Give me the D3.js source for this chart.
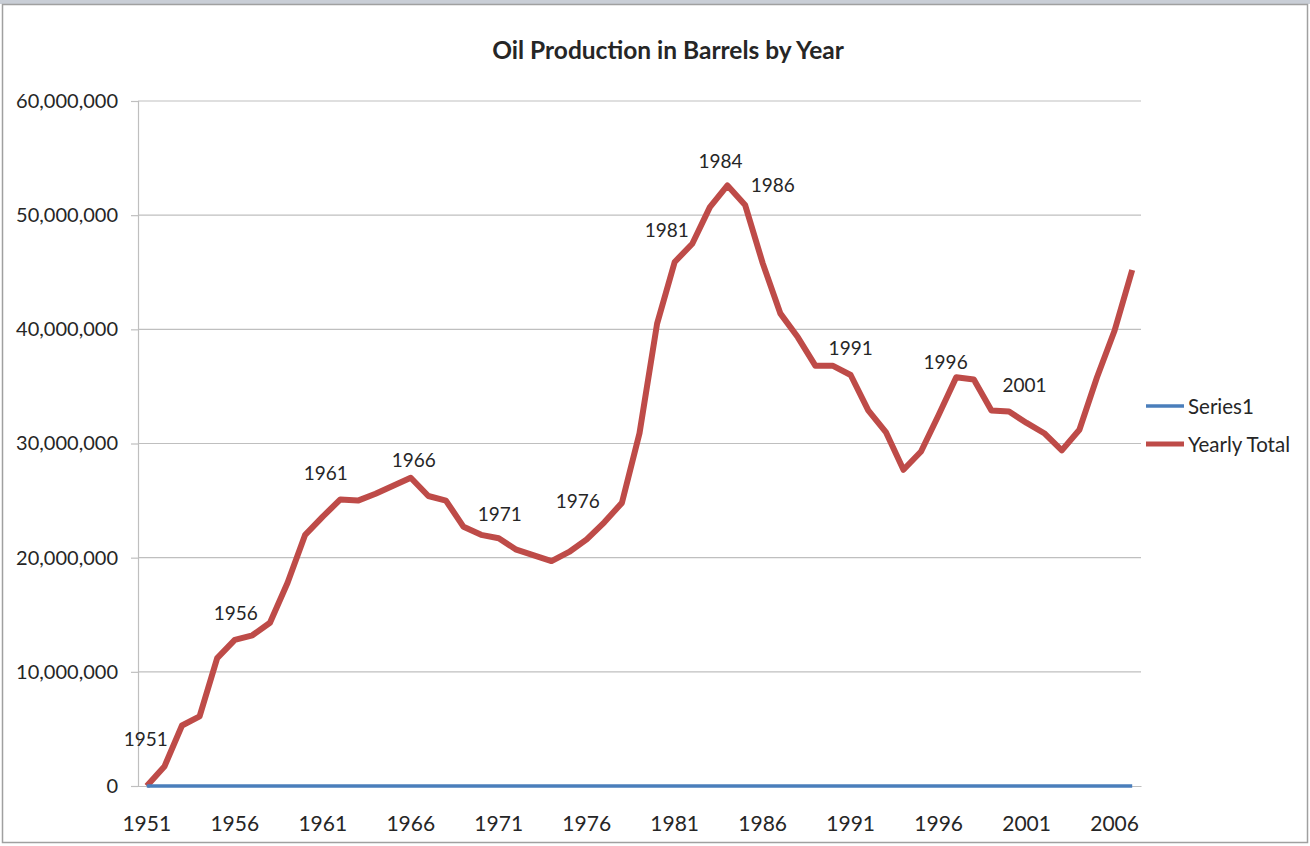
<!DOCTYPE html>
<html>
<head>
<meta charset="utf-8">
<script src="https://cdn.jsdelivr.net/npm/d3@7"></script>
<style>
  html, body { margin: 0; padding: 0; background: #fff; }
  svg { display: block; }
  text { font-family: Lato, "Open Sans", sans-serif; fill: #262626; }
</style>
</head>
<body>
<svg id="chart" width="1310" height="846"></svg>
<script>
// ---- data ----
const years = d3.range(1951, 2008);
const yearlyTotal = [
  0, 1.7, 5.3, 6.1, 11.2, 12.8, 13.2, 14.3, 17.8, 22.0,
  23.6, 25.1, 25.0, 25.6, 26.3, 27.0, 25.4, 25.0, 22.7, 22.0,
  21.7, 20.7, 20.2, 19.7, 20.5, 21.6, 23.1, 24.8, 30.9, 40.5,
  45.9, 47.5, 50.7, 52.6, 50.9, 45.8, 41.4, 39.3, 36.8, 36.8,
  36.0, 32.9, 31.0, 27.7, 29.3, 32.5, 35.8, 35.6, 32.9, 32.8,
  31.8, 30.9, 29.4, 31.2, 35.8, 39.9, 45.2
].map(v => v * 1e6);
const series1 = years.map(() => 0);
const yTicks = [0, 10e6, 20e6, 30e6, 40e6, 50e6, 60e6];
const xTickYears = [1951, 1956, 1961, 1966, 1971, 1976, 1981, 1986, 1991, 1996, 2001, 2006];
const labelYears = [1951, 1956, 1961, 1966, 1971, 1976, 1981, 1984, 1986, 1991, 1996, 2001];
const seriesNames = ["Series1", "Yearly Total"];

// label offsets (layout only, px relative to the point)
const labelOffsets = {
  1951: [-1, -48], 1956: [1, -27], 1961: [3, -44], 1966: [3, -18],
  1971: [1, -25], 1976: [-9, -39], 1981: [-8, -32], 1984: [-7, -25],
  1986: [10, -79], 1991: [0, -28], 1996: [7, -53], 2001: [-2, -38]
};

const svg = d3.select("#chart");

// frame
svg.append("rect").attr("x", 0).attr("y", 0).attr("width", 1310).attr("height", 4).attr("fill", "#c9ced6");
svg.append("rect").attr("x", 2.5).attr("y", 4.5).attr("width", 1305).attr("height", 838)
  .attr("fill", "#fff").attr("stroke", "#a0a0a0").attr("stroke-width", 1.5);

const x = d3.scaleBand().domain(years).range([138, 1141]).padding(0);
const cx = yr => x(yr) + x.bandwidth() / 2;
const y = d3.scaleLinear().domain([0, 60e6]).range([786, 101]);

// gridlines
svg.append("g").selectAll("line").data(yTicks.slice(1)).join("line")
  .attr("x1", 138).attr("x2", 1141)
  .attr("y1", d => y(d)).attr("y2", d => y(d))
  .attr("stroke", "#bfbfbf").attr("stroke-width", 1.2);

// y axis
const yAxis = svg.append("g").attr("transform", "translate(138,0)")
  .call(d3.axisLeft(y).tickValues(yTicks).tickFormat(d3.format(",")).tickSize(7).tickPadding(13));
yAxis.select(".domain").attr("stroke", "#bfbfbf").attr("stroke-width", 1.2);
yAxis.selectAll(".tick line").attr("stroke", "#bfbfbf").attr("stroke-width", 1.2);
yAxis.selectAll(".tick text").style("font-size", "20px").style("font-family", "Lato, sans-serif").attr("fill", "#262626");

// x axis
const xAxis = svg.append("g").attr("transform", "translate(0,786)")
  .call(d3.axisBottom(x).tickValues(xTickYears).tickSize(0).tickPadding(30));
xAxis.select(".domain").attr("stroke", "#bfbfbf").attr("stroke-width", 1.2);
xAxis.selectAll(".tick text").style("font-size", "21px").style("font-family", "Lato, sans-serif").attr("fill", "#262626");

// lines
const line = d3.line().x((d, i) => cx(years[i])).y(d => y(d));
svg.append("path").datum(yearlyTotal).attr("d", line)
  .attr("fill", "none").attr("stroke", "#be4b48").attr("stroke-width", 6).attr("stroke-linejoin", "round");
svg.append("path").datum(series1).attr("d", line)
  .attr("fill", "none").attr("stroke", "#4a7ebb").attr("stroke-width", 3.5);

// data labels
svg.append("g").selectAll("text").data(labelYears).join("text")
  .attr("x", d => cx(d) + labelOffsets[d][0])
  .attr("y", d => y(yearlyTotal[years.indexOf(d)]) + labelOffsets[d][1])
  .attr("text-anchor", "middle").attr("dominant-baseline", "central")
  .style("font-size", "19px")
  .text(d => d);

// title
svg.append("text").attr("x", 668).attr("y", 49)
  .attr("text-anchor", "middle").attr("dominant-baseline", "central")
  .style("font-size", "24.5px").style("font-weight", "bold")
  .text("Oil Production in Barrels by Year");

// legend
const legColors = ["#4a7ebb", "#be4b48"];
const leg = svg.append("g");
seriesNames.forEach((n, i) => {
  const ly = 406 + i * 38;
  leg.append("line").attr("x1", 1146).attr("x2", 1184).attr("y1", ly).attr("y2", ly)
    .attr("stroke", legColors[i]).attr("stroke-width", i === 0 ? 3.5 : 5);
  leg.append("text").attr("x", 1188).attr("y", ly).attr("dominant-baseline", "central")
    .style("font-size", "20.5px").text(n);
});
</script>
</body>
</html>
